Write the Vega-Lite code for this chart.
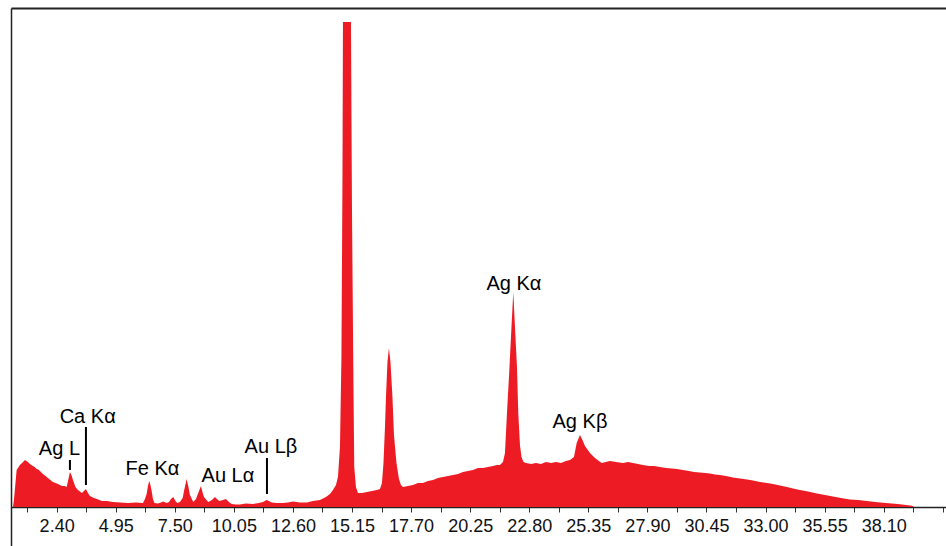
{
  "$schema": "https://vega.github.io/schema/vega-lite/v6.json",
  "width": 935,
  "height": 538,
  "autosize": {"type": "none"},
  "padding": {"left": 11, "top": 8, "right": 0, "bottom": 0},
  "background": "white",
  "config": {"view": {"stroke": null}, "font": "Liberation Sans"},
  "datasets": {
    "spectrum": [
      {"e": 0.514, "c": 0}, {"e": 0.557, "c": 7}, {"e": 0.673, "c": 37}, {"e": 0.816, "c": 42},
      {"e": 0.95, "c": 45}, {"e": 1.032, "c": 47}, {"e": 1.161, "c": 45}, {"e": 1.247, "c": 43},
      {"e": 1.377, "c": 41}, {"e": 1.45, "c": 40}, {"e": 1.537, "c": 38}, {"e": 1.61, "c": 37.5}, {"e": 1.679, "c": 36},
      {"e": 1.809, "c": 33}, {"e": 1.92, "c": 31}, {"e": 2.024, "c": 29}, {"e": 2.13, "c": 27}, {"e": 2.24, "c": 25},
      {"e": 2.35, "c": 24}, {"e": 2.456, "c": 23}, {"e": 2.629, "c": 21}, {"e": 2.75, "c": 21}, {"e": 2.832, "c": 20},
      {"e": 2.909, "c": 28}, {"e": 2.974, "c": 35}, {"e": 3.039, "c": 32}, {"e": 3.104, "c": 27},
      {"e": 3.212, "c": 20}, {"e": 3.319, "c": 17}, {"e": 3.492, "c": 14}, {"e": 3.579, "c": 16},
      {"e": 3.665, "c": 18}, {"e": 3.751, "c": 14}, {"e": 3.838, "c": 11}, {"e": 4.01, "c": 9},
      {"e": 4.14, "c": 8}, {"e": 4.356, "c": 6}, {"e": 4.571, "c": 6}, {"e": 4.83, "c": 5},
      {"e": 5.133, "c": 4.5}, {"e": 5.478, "c": 4}, {"e": 5.823, "c": 4.5}, {"e": 6.126, "c": 4},
      {"e": 6.212, "c": 8}, {"e": 6.285, "c": 13}, {"e": 6.341, "c": 21}, {"e": 6.397, "c": 26},
      {"e": 6.449, "c": 22}, {"e": 6.501, "c": 16}, {"e": 6.557, "c": 8}, {"e": 6.622, "c": 4},
      {"e": 6.773, "c": 3.5}, {"e": 6.903, "c": 4.5}, {"e": 7.002, "c": 5.5}, {"e": 7.149, "c": 4},
      {"e": 7.248, "c": 5}, {"e": 7.334, "c": 8}, {"e": 7.434, "c": 10}, {"e": 7.529, "c": 6},
      {"e": 7.606, "c": 4}, {"e": 7.723, "c": 5}, {"e": 7.839, "c": 9}, {"e": 7.917, "c": 18},
      {"e": 8.012, "c": 28}, {"e": 8.09, "c": 20}, {"e": 8.154, "c": 12}, {"e": 8.297, "c": 5},
      {"e": 8.413, "c": 8}, {"e": 8.513, "c": 14}, {"e": 8.629, "c": 21}, {"e": 8.694, "c": 15},
      {"e": 8.759, "c": 10}, {"e": 8.944, "c": 5}, {"e": 9.104, "c": 7}, {"e": 9.234, "c": 10},
      {"e": 9.32, "c": 8}, {"e": 9.419, "c": 6}, {"e": 9.579, "c": 7}, {"e": 9.708, "c": 8},
      {"e": 9.838, "c": 5}, {"e": 9.955, "c": 3}, {"e": 10.14, "c": 2.5}, {"e": 10.313, "c": 2.5},
      {"e": 10.572, "c": 3.5}, {"e": 10.874, "c": 3}, {"e": 11.133, "c": 4}, {"e": 11.306, "c": 5},
      {"e": 11.465, "c": 7}, {"e": 11.565, "c": 6}, {"e": 11.681, "c": 4.5}, {"e": 11.91, "c": 4},
      {"e": 12.169, "c": 4}, {"e": 12.385, "c": 4.5}, {"e": 12.601, "c": 5.5}, {"e": 12.903, "c": 4.5},
      {"e": 13.205, "c": 4.5}, {"e": 13.464, "c": 6}, {"e": 13.766, "c": 7}, {"e": 14.025, "c": 10},
      {"e": 14.198, "c": 13}, {"e": 14.328, "c": 17}, {"e": 14.457, "c": 22}, {"e": 14.544, "c": 30},
      {"e": 14.63, "c": 60}, {"e": 14.694, "c": 150}, {"e": 14.738, "c": 330}, {"e": 14.759, "c": 485},
      {"e": 15.105, "c": 485}, {"e": 15.148, "c": 300}, {"e": 15.204, "c": 144}, {"e": 15.247, "c": 40},
      {"e": 15.32, "c": 20}, {"e": 15.407, "c": 14}, {"e": 15.58, "c": 14}, {"e": 15.795, "c": 15},
      {"e": 16.011, "c": 16}, {"e": 16.227, "c": 17}, {"e": 16.357, "c": 18}, {"e": 16.443, "c": 24},
      {"e": 16.508, "c": 44}, {"e": 16.573, "c": 80}, {"e": 16.616, "c": 110}, {"e": 16.68, "c": 145},
      {"e": 16.745, "c": 159}, {"e": 16.81, "c": 145}, {"e": 16.896, "c": 110}, {"e": 16.961, "c": 72},
      {"e": 17.069, "c": 44}, {"e": 17.177, "c": 28}, {"e": 17.263, "c": 22}, {"e": 17.35, "c": 20},
      {"e": 17.565, "c": 21}, {"e": 17.781, "c": 22}, {"e": 17.997, "c": 24}, {"e": 18.213, "c": 24},
      {"e": 18.429, "c": 26}, {"e": 18.645, "c": 27}, {"e": 18.86, "c": 29}, {"e": 19.076, "c": 30},
      {"e": 19.292, "c": 31}, {"e": 19.508, "c": 32}, {"e": 19.724, "c": 33}, {"e": 19.94, "c": 35},
      {"e": 20.155, "c": 36}, {"e": 20.371, "c": 37}, {"e": 20.587, "c": 39}, {"e": 20.803, "c": 39},
      {"e": 21.019, "c": 40}, {"e": 21.235, "c": 41}, {"e": 21.407, "c": 42}, {"e": 21.537, "c": 42},
      {"e": 21.666, "c": 45}, {"e": 21.753, "c": 54}, {"e": 21.839, "c": 94}, {"e": 21.925, "c": 130},
      {"e": 22.012, "c": 170}, {"e": 22.111, "c": 215}, {"e": 22.184, "c": 180}, {"e": 22.271, "c": 140},
      {"e": 22.327, "c": 94}, {"e": 22.4, "c": 62}, {"e": 22.465, "c": 50}, {"e": 22.551, "c": 45},
      {"e": 22.659, "c": 44}, {"e": 22.875, "c": 43}, {"e": 23.091, "c": 44}, {"e": 23.307, "c": 43},
      {"e": 23.522, "c": 45}, {"e": 23.738, "c": 44}, {"e": 23.954, "c": 45}, {"e": 24.17, "c": 44},
      {"e": 24.386, "c": 46}, {"e": 24.559, "c": 47}, {"e": 24.731, "c": 50}, {"e": 24.848, "c": 64},
      {"e": 24.99, "c": 72}, {"e": 25.098, "c": 67}, {"e": 25.206, "c": 61}, {"e": 25.422, "c": 54},
      {"e": 25.638, "c": 49}, {"e": 25.927, "c": 44}, {"e": 26.286, "c": 46}, {"e": 26.545, "c": 45},
      {"e": 26.847, "c": 44}, {"e": 27.063, "c": 45}, {"e": 27.278, "c": 44}, {"e": 27.494, "c": 43},
      {"e": 27.71, "c": 42}, {"e": 27.969, "c": 41}, {"e": 28.185, "c": 41}, {"e": 28.444, "c": 40},
      {"e": 28.703, "c": 39}, {"e": 28.962, "c": 38.5}, {"e": 29.178, "c": 38}, {"e": 29.437, "c": 37},
      {"e": 29.696, "c": 36}, {"e": 29.912, "c": 35}, {"e": 30.171, "c": 34.5}, {"e": 30.387, "c": 34},
      {"e": 30.602, "c": 33.5}, {"e": 30.818, "c": 32.5}, {"e": 31.034, "c": 32}, {"e": 31.293, "c": 31},
      {"e": 31.595, "c": 29.5}, {"e": 31.897, "c": 28.5}, {"e": 32.2, "c": 27.5}, {"e": 32.459, "c": 26.5},
      {"e": 32.761, "c": 25}, {"e": 33.063, "c": 24}, {"e": 33.322, "c": 23}, {"e": 33.624, "c": 21.5},
      {"e": 33.927, "c": 20}, {"e": 34.186, "c": 18.5}, {"e": 34.488, "c": 17}, {"e": 34.833, "c": 15.5},
      {"e": 35.222, "c": 13.5}, {"e": 35.567, "c": 12}, {"e": 35.912, "c": 10.5}, {"e": 36.258, "c": 9},
      {"e": 36.646, "c": 7.5}, {"e": 36.992, "c": 7}, {"e": 37.38, "c": 6}, {"e": 37.726, "c": 5},
      {"e": 38.071, "c": 4.3}, {"e": 38.459, "c": 3.5}, {"e": 38.805, "c": 2.7}, {"e": 39.064, "c": 2},
      {"e": 39.323, "c": 1.3}, {"e": 39.409, "c": 0}
    ],
    "markers": [
      {"e": 2.974, "lo": 37, "hi": 47},
      {"e": 3.665, "lo": 22, "hi": 80},
      {"e": 11.479, "lo": 13, "hi": 49}
    ],
    "labels": [
      {"e": 2.521, "c": 52, "label": "Ag L"},
      {"e": 3.74, "c": 84, "label": "Ca Kα"},
      {"e": 6.536, "c": 32, "label": "Fe Kα"},
      {"e": 9.795, "c": 25, "label": "Au Lα"},
      {"e": 11.651, "c": 54, "label": "Au Lβ"},
      {"e": 22.141, "c": 217, "label": "Ag Kα"},
      {"e": 24.99, "c": 79, "label": "Ag Kβ"}
    ]
  },
  "resolve": {"axis": {"x": "independent", "y": "independent"}},
  "layer": [
    {
      "data": {"name": "spectrum"},
      "mark": {"type": "area", "color": "#ed1c24", "interpolate": "linear"},
      "encoding": {
        "x": {
          "field": "e", "type": "quantitative",
          "scale": {"domain": [0.43, 40.79], "nice": false, "zero": false},
          "axis": {
            "orient": "bottom", "offset": -39, "title": null, "grid": false,
            "values": [1.125, 2.4, 3.675, 4.95, 6.225, 7.5, 8.775, 10.05, 11.325, 12.6, 13.875, 15.15, 16.425, 17.7, 18.975, 20.25, 21.525, 22.8, 24.075, 25.35, 26.625, 27.9, 29.175, 30.45, 31.725, 33.0, 34.275, 35.55, 36.825, 38.1, 39.375, 40.65],
            "labelExpr": "(round((datum.value - 1.125) / 1.275) % 2 == 1 && datum.value < 39) ? format(datum.value, '.2f') : ''",
            "labelOverlap": false, "labelFlush": false,
            "labelFont": "Liberation Sans", "labelFontSize": 18, "labelColor": "#111",
            "labelPadding": 5, "tickSize": 5, "tickColor": "#333", "tickWidth": 1,
            "domainColor": "#222", "domainWidth": 1.5
          }
        },
        "y": {
          "field": "c", "type": "quantitative",
          "scale": {"domain": [-39, 499], "nice": false, "zero": false},
          "axis": {"title": null, "grid": false, "ticks": false, "labels": false, "domainColor": "#222", "domainWidth": 1.5}
        },
        "y2": {"datum": 0}
      }
    },
    {
      "data": {"name": "markers"},
      "mark": {"type": "rule", "color": "black", "strokeWidth": 2},
      "encoding": {
        "x": {
          "field": "e", "type": "quantitative",
          "axis": {"orient": "top", "title": null, "grid": false, "ticks": false, "labels": false, "domainColor": "#222", "domainWidth": 2}
        },
        "y": {"field": "lo", "type": "quantitative", "axis": null},
        "y2": {"field": "hi"}
      }
    },
    {
      "data": {"name": "labels"},
      "mark": {"type": "text", "font": "Liberation Sans", "fontSize": 20, "color": "black", "align": "center", "baseline": "alphabetic"},
      "encoding": {
        "x": {"field": "e", "type": "quantitative", "axis": null},
        "y": {"field": "c", "type": "quantitative", "axis": null},
        "text": {"field": "label"}
      }
    }
  ]
}
